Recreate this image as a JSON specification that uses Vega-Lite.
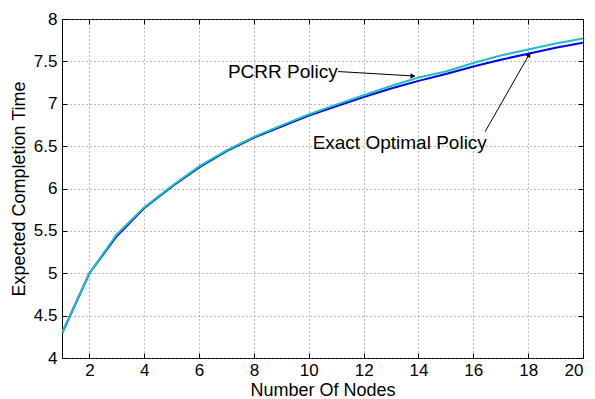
{
  "$schema": "https://vega.github.io/schema/vega-lite/v6.json",
  "width": 521,
  "height": 339,
  "autosize": {"type": "none"},
  "padding": {"left": 62, "top": 19, "right": 12, "bottom": 41},
  "background": "white",
  "config": {
    "font": "Liberation Sans",
    "view": {"stroke": "black", "strokeWidth": 1},
    "axis": {
      "domainColor": "black",
      "tickColor": "black",
      "labelColor": "black",
      "titleColor": "black",
      "labelFont": "Liberation Sans",
      "titleFont": "Liberation Sans",
      "labelFontSize": 17,
      "titleFontSize": 18,
      "titleFontWeight": "normal",
      "tickSize": -5,
      "gridColor": "#777777",
      "gridDash": [1, 3],
      "gridOpacity": 1
    }
  },
  "datasets": {
    "series": [
      {"n": 1, "time": 4.29, "policy": "Exact Optimal Policy"},
      {"n": 2, "time": 5.0, "policy": "Exact Optimal Policy"},
      {"n": 3, "time": 5.44, "policy": "Exact Optimal Policy"},
      {"n": 4, "time": 5.77, "policy": "Exact Optimal Policy"},
      {"n": 5, "time": 6.02, "policy": "Exact Optimal Policy"},
      {"n": 6, "time": 6.25, "policy": "Exact Optimal Policy"},
      {"n": 7, "time": 6.44, "policy": "Exact Optimal Policy"},
      {"n": 8, "time": 6.6, "policy": "Exact Optimal Policy"},
      {"n": 9, "time": 6.73, "policy": "Exact Optimal Policy"},
      {"n": 10, "time": 6.86, "policy": "Exact Optimal Policy"},
      {"n": 11, "time": 6.97, "policy": "Exact Optimal Policy"},
      {"n": 12, "time": 7.08, "policy": "Exact Optimal Policy"},
      {"n": 13, "time": 7.18, "policy": "Exact Optimal Policy"},
      {"n": 14, "time": 7.27, "policy": "Exact Optimal Policy"},
      {"n": 15, "time": 7.35, "policy": "Exact Optimal Policy"},
      {"n": 16, "time": 7.44, "policy": "Exact Optimal Policy"},
      {"n": 17, "time": 7.52, "policy": "Exact Optimal Policy"},
      {"n": 18, "time": 7.59, "policy": "Exact Optimal Policy"},
      {"n": 19, "time": 7.66, "policy": "Exact Optimal Policy"},
      {"n": 20, "time": 7.72, "policy": "Exact Optimal Policy"},
      {"n": 1, "time": 4.3, "policy": "PCRR Policy"},
      {"n": 2, "time": 5.0, "policy": "PCRR Policy"},
      {"n": 3, "time": 5.46, "policy": "PCRR Policy"},
      {"n": 4, "time": 5.78, "policy": "PCRR Policy"},
      {"n": 5, "time": 6.03, "policy": "PCRR Policy"},
      {"n": 6, "time": 6.26, "policy": "PCRR Policy"},
      {"n": 7, "time": 6.45, "policy": "PCRR Policy"},
      {"n": 8, "time": 6.61, "policy": "PCRR Policy"},
      {"n": 9, "time": 6.745, "policy": "PCRR Policy"},
      {"n": 10, "time": 6.875, "policy": "PCRR Policy"},
      {"n": 11, "time": 6.99, "policy": "PCRR Policy"},
      {"n": 12, "time": 7.1, "policy": "PCRR Policy"},
      {"n": 13, "time": 7.21, "policy": "PCRR Policy"},
      {"n": 14, "time": 7.31, "policy": "PCRR Policy"},
      {"n": 15, "time": 7.38, "policy": "PCRR Policy"},
      {"n": 16, "time": 7.48, "policy": "PCRR Policy"},
      {"n": 17, "time": 7.57, "policy": "PCRR Policy"},
      {"n": 18, "time": 7.64, "policy": "PCRR Policy"},
      {"n": 19, "time": 7.71, "policy": "PCRR Policy"},
      {"n": 20, "time": 7.77, "policy": "PCRR Policy"}
    ],
    "labels": [
      {"x": 7.05, "y": 7.378, "text": "PCRR Policy"},
      {"x": 10.14, "y": 6.537, "text": "Exact Optimal Policy"}
    ],
    "arrowPCRR": [
      {"x": 11.07, "y": 7.38, "x2": 13.87, "y2": 7.327}
    ],
    "arrowExact": [
      {"x": 16.43, "y": 6.67, "x2": 18.07, "y2": 7.6}
    ]
  },
  "layer": [
    {
      "data": {"name": "series"},
      "transform": [{"filter": "datum.policy === 'Exact Optimal Policy'"}],
      "mark": {"type": "line", "color": "#0000EE", "strokeWidth": 2, "clip": true},
      "encoding": {
        "x": {"field": "n", "type": "quantitative", "scale": {"domain": [1, 20], "nice": false, "zero": false},
          "axis": {"orient": "top", "labels": false, "grid": false, "title": null, "values": [2,4,6,8,10,12,14,16,18,20], "domain": false}},
        "y": {"field": "time", "type": "quantitative", "scale": {"domain": [4, 8], "nice": false, "zero": false},
          "axis": {"orient": "right", "labels": false, "grid": false, "title": null, "values": [4,4.5,5,5.5,6,6.5,7,7.5,8], "domain": false}}
      }
    },
    {
      "data": {"name": "series"},
      "transform": [{"filter": "datum.policy === 'PCRR Policy'"}],
      "mark": {"type": "line", "color": "#1CBFC6", "strokeWidth": 2, "clip": true},
      "encoding": {
        "x": {"field": "n", "type": "quantitative",
          "axis": {"orient": "bottom", "grid": true, "title": "Number Of Nodes", "values": [2,4,6,8,10,12,14,16,18,20], "labelPadding": 9, "titlePadding": 3, "domain": false}},
        "y": {"field": "time", "type": "quantitative",
          "axis": {"orient": "left", "grid": true, "title": "Expected Completion Time", "values": [4,4.5,5,5.5,6,6.5,7,7.5,8], "format": "~g", "labelPadding": 10, "titlePadding": 5, "domain": false}}
      }
    },
    {
      "data": {"name": "labels"},
      "mark": {"type": "text", "align": "left", "baseline": "middle", "fontSize": 19, "font": "Liberation Sans", "color": "black"},
      "encoding": {
        "x": {"field": "x", "type": "quantitative", "axis": null},
        "y": {"field": "y", "type": "quantitative", "axis": null},
        "text": {"field": "text"}
      }
    },
    {
      "data": {"name": "arrowPCRR"},
      "mark": {"type": "rule", "color": "black", "strokeWidth": 1},
      "encoding": {
        "x": {"field": "x", "type": "quantitative", "axis": null},
        "y": {"field": "y", "type": "quantitative", "axis": null},
        "x2": {"field": "x2"},
        "y2": {"field": "y2"}
      }
    },
    {
      "data": {"name": "arrowPCRR"},
      "mark": {"type": "point", "shape": "triangle-right", "filled": true, "color": "black", "size": 30, "angle": 4, "opacity": 1, "xOffset": -2},
      "encoding": {
        "x": {"field": "x2", "type": "quantitative", "axis": null},
        "y": {"field": "y2", "type": "quantitative", "axis": null}
      }
    },
    {
      "data": {"name": "arrowExact"},
      "mark": {"type": "rule", "color": "black", "strokeWidth": 1},
      "encoding": {
        "x": {"field": "x", "type": "quantitative", "axis": null},
        "y": {"field": "y", "type": "quantitative", "axis": null},
        "x2": {"field": "x2"},
        "y2": {"field": "y2"}
      }
    },
    {
      "data": {"name": "arrowExact"},
      "mark": {"type": "point", "shape": "triangle-up", "filled": true, "color": "black", "size": 30, "angle": 30, "opacity": 1, "xOffset": -1, "yOffset": 2},
      "encoding": {
        "x": {"field": "x2", "type": "quantitative", "axis": null},
        "y": {"field": "y2", "type": "quantitative", "axis": null}
      }
    }
  ],
  "resolve": {"axis": {"x": "independent", "y": "independent"}}
}
